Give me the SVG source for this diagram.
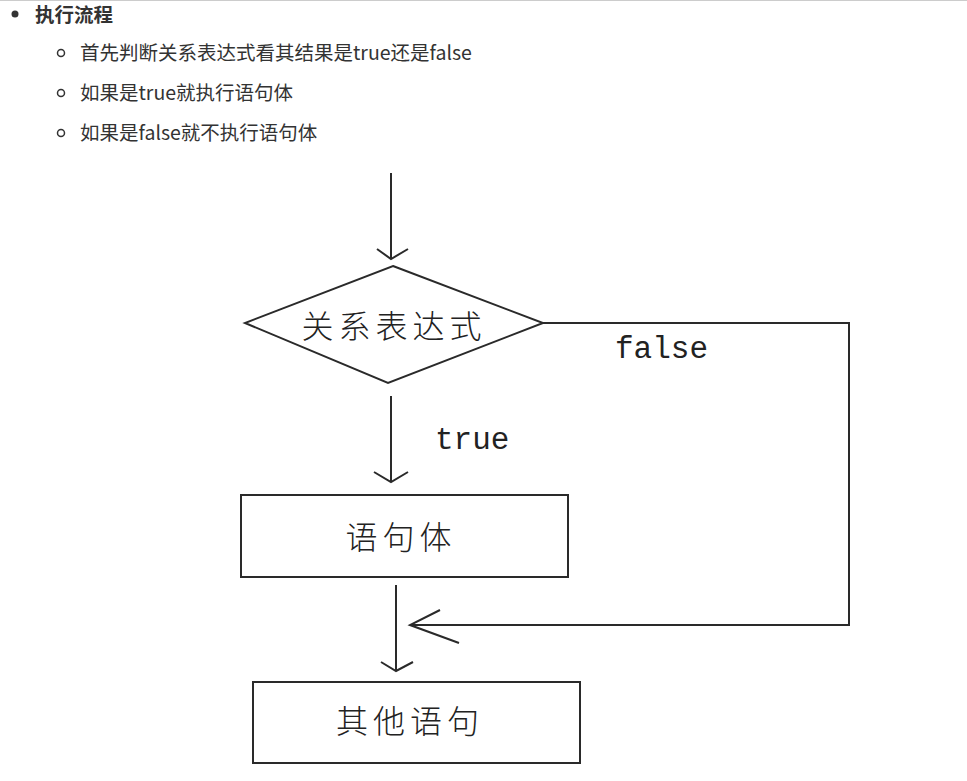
<svg xmlns="http://www.w3.org/2000/svg" width="967" height="781" viewBox="0 0 967 781">
<style>
.ln{fill:none;stroke:#2a2a2a;stroke-width:2}
.cn{font-family:"Noto Sans CJK SC","Liberation Sans",sans-serif;fill:#222;font-size:32px;text-anchor:middle;font-weight:300}
.mono{font-family:"Liberation Mono","DejaVu Sans Mono",monospace;fill:#222;font-size:31px}
.li{font-family:"Noto Sans CJK SC","Liberation Sans",sans-serif;fill:#333;font-size:19.5px}
</style>
<rect width="967" height="781" fill="#fff"/>
<line x1="0" y1="0.5" x2="967" y2="0.5" stroke="#ccc" stroke-width="1"/>
<g id="list">
<circle cx="15" cy="14" r="3.5" fill="#333"/>
<text x="35" y="22" class="li" font-weight="bold" font-size="20">执行流程</text>
<circle cx="61" cy="53" r="3.5" fill="none" stroke="#333" stroke-width="1.5"/>
<text x="80" y="60" class="li">首先判断关系表达式看其结果是true还是false</text>
<circle cx="61" cy="93" r="3.5" fill="none" stroke="#333" stroke-width="1.5"/>
<text x="80" y="100" class="li">如果是true就执行语句体</text>
<circle cx="61" cy="133" r="3.5" fill="none" stroke="#333" stroke-width="1.5"/>
<text x="80" y="140" class="li">如果是false就不执行语句体</text>
</g>
<g id="connectors">
<path class="ln" d="M391 173 V259 M377 249 L391 259 L408 249"/>
<path class="ln" d="M391 396 V482 M374 472 L391 482 L408 472"/>
<path class="ln" d="M396 585 V671 M381 662 L396 671 L413 662"/>
<path class="ln" d="M543 323 H849 V625 H410 M440 610 L410 625 L459 643"/>
<text x="615" y="358" class="mono">false</text>
<text x="435" y="449" class="mono">true</text>
</g>
<g id="decision">
<polygon class="ln" points="393,266 543,323 388,383 245,323"/>
<text x="394" y="338" class="cn" letter-spacing="5">关系表达式</text>
</g>
<g id="body">
<rect class="ln" x="241" y="495" width="327" height="82"/>
<text x="401" y="549" class="cn" letter-spacing="5">语句体</text>
</g>
<g id="other">
<rect class="ln" x="253" y="682" width="327" height="81"/>
<text x="410" y="733" class="cn" letter-spacing="5">其他语句</text>
</g>
</svg>
